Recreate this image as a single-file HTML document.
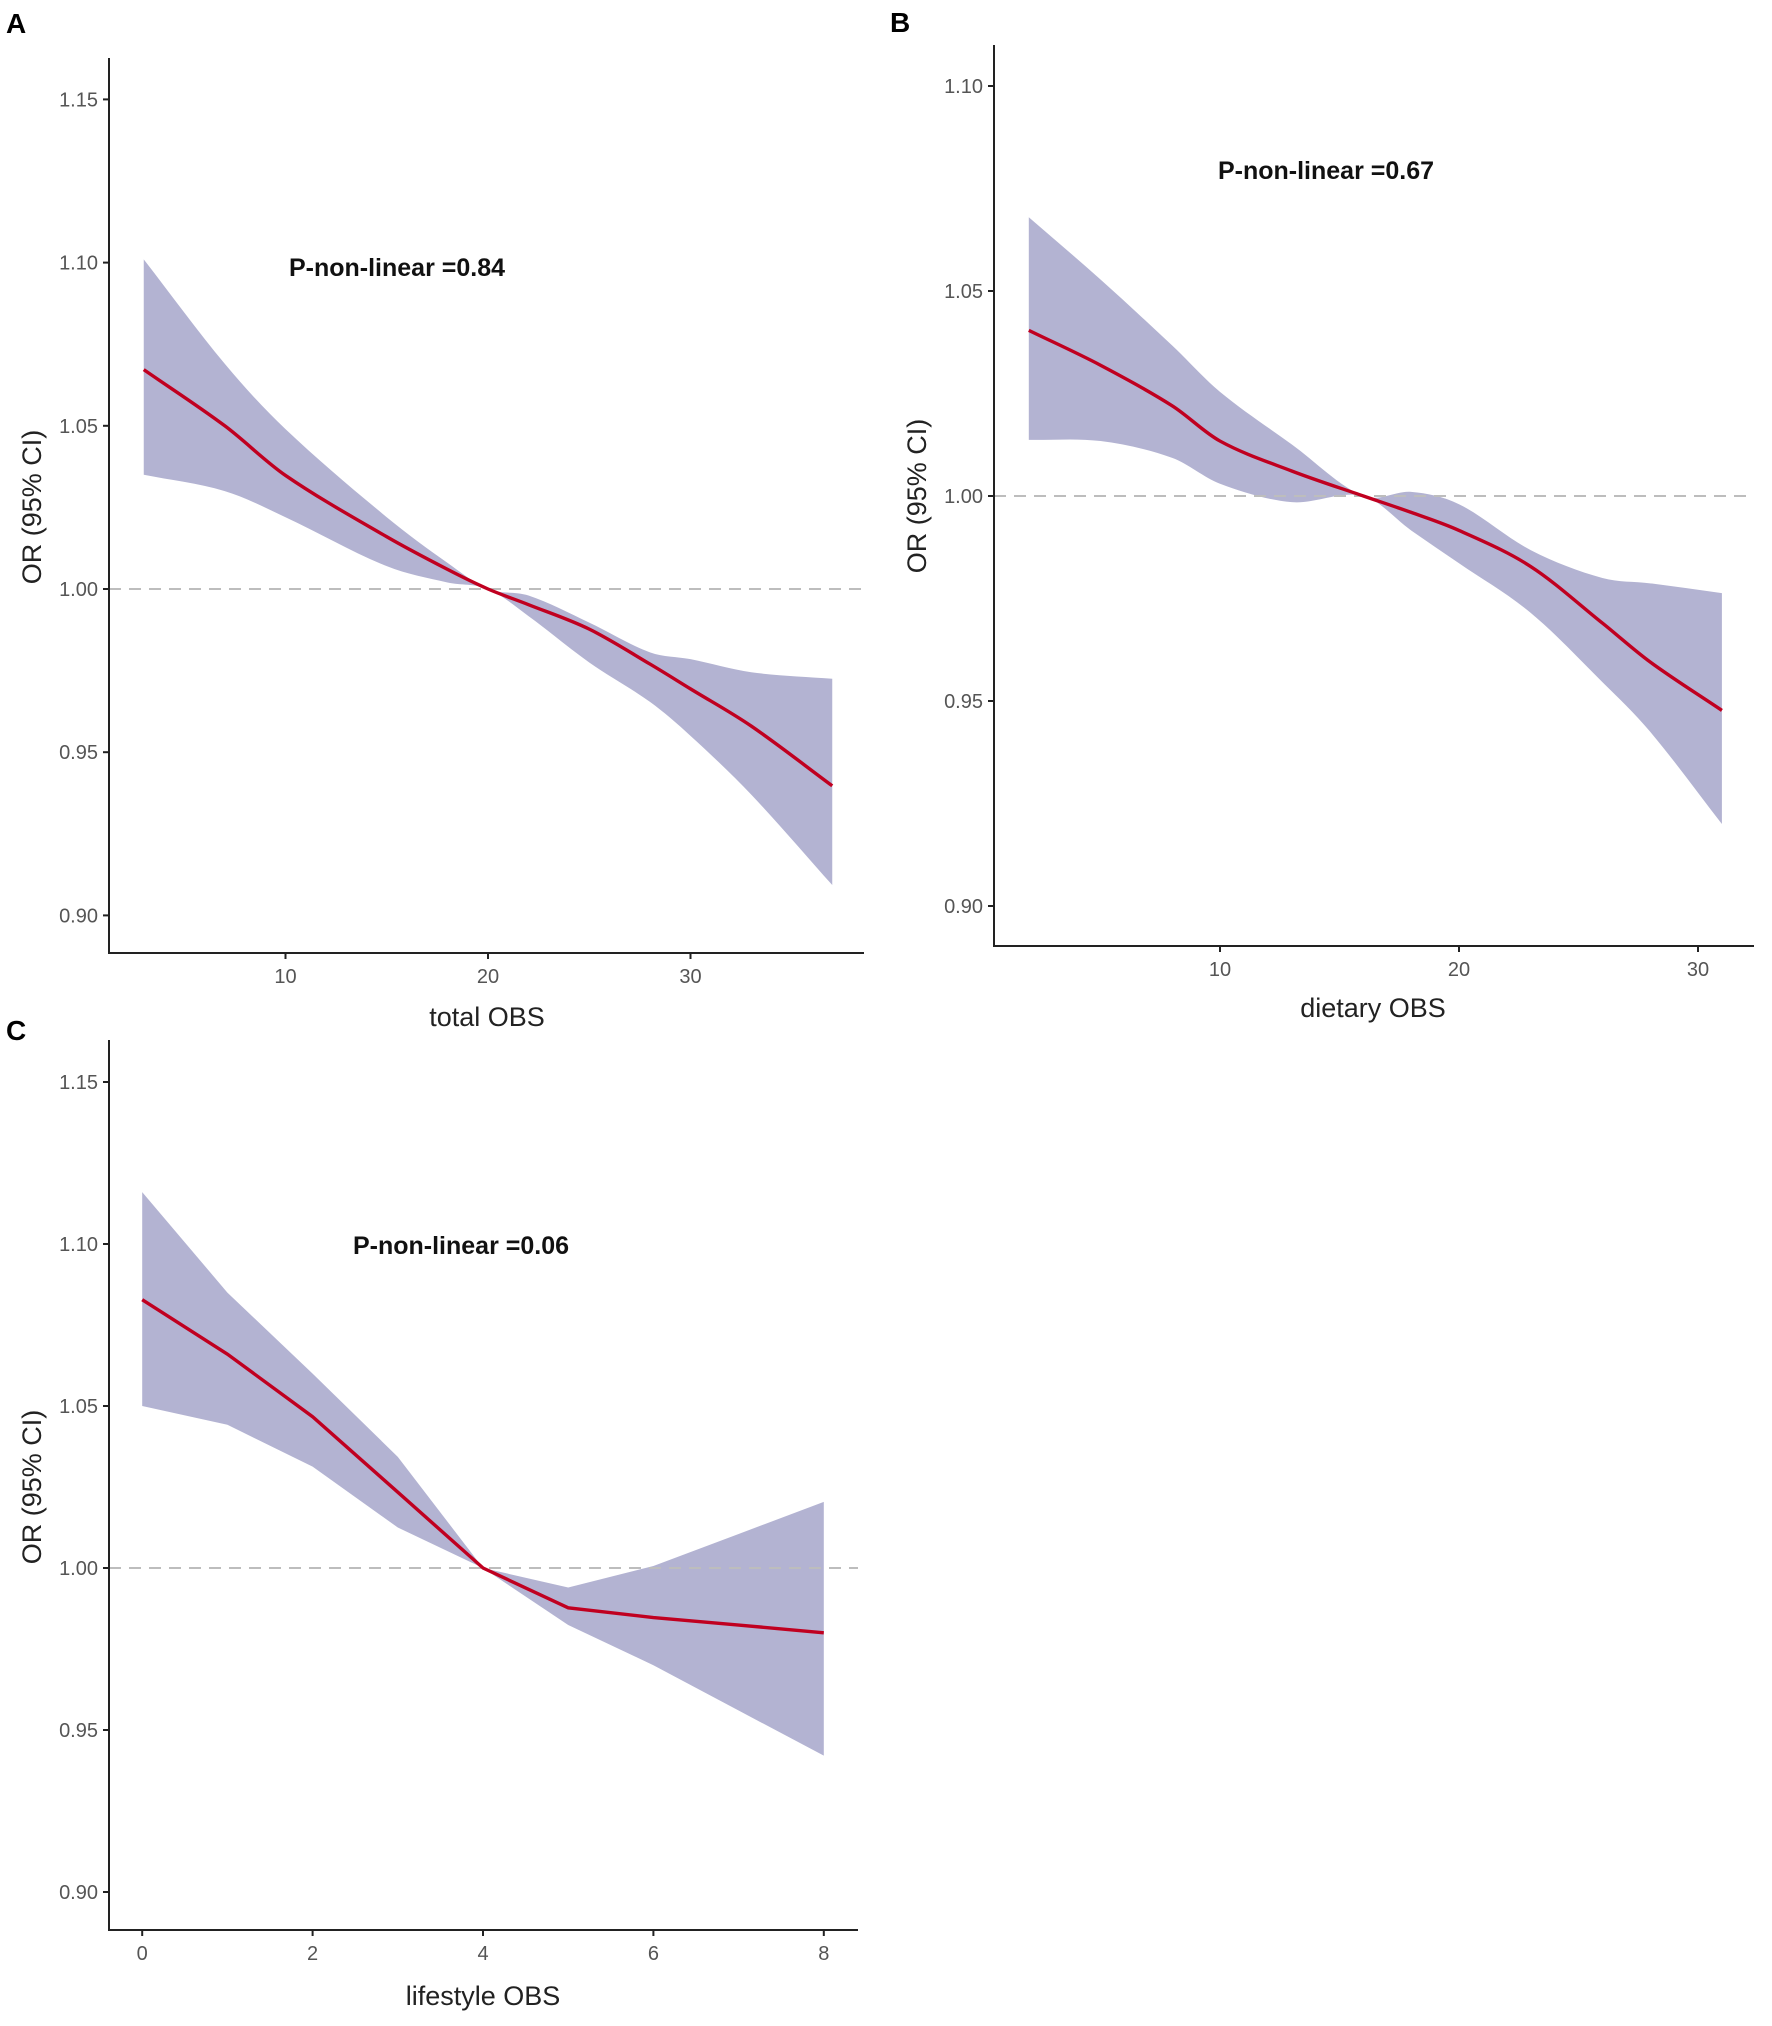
<!DOCTYPE html>
<html><head><meta charset="utf-8"><style>
body{margin:0;background:#fff}
svg text{font-family:"Liberation Sans",Arial,sans-serif}
</style></head><body>
<svg id="fig" width="1772" height="2021" xmlns="http://www.w3.org/2000/svg"></svg>
<script>
// Panel A data (total OBS)
const aX=[3,7,10,15,18,20,22,25,28,30,33,37];
const aFit=[1.0672,1.050,1.0348,1.016,1.006,1.0,0.9952,0.9877,0.977,0.9694,0.958,0.9397];
const aUp=[1.101,1.069,1.049,1.022,1.008,1.0,0.998,0.9897,0.9806,0.9785,0.9745,0.9725];
const aLo=[1.035,1.030,1.022,1.007,1.002,1.0,0.9917,0.9775,0.9654,0.955,0.937,0.9093];
const aXTicks=[10,20,30];
const aYTicks=[0.90,0.95,1.00,1.05,1.10,1.15];
// Panel B data (dietary OBS)
const bX=[2,5,8,10,13,16,18,20,23,26,28,31];
const bFit=[1.0404,1.0319,1.022,1.0134,1.0061,1.0,0.996,0.9916,0.9828,0.969,0.9595,0.9477];
const bUp=[1.068,1.0528,1.0367,1.0254,1.0126,1.0,1.001,0.998,0.9868,0.980,0.9787,0.9763];
const bLo=[1.0137,1.0134,1.0093,1.003,0.9985,1.0,0.9916,0.9836,0.9715,0.9546,0.9425,0.920];
const bXTicks=[10,20,30];
const bYTicks=[0.90,0.95,1.00,1.05,1.10];
// Panel C data (lifestyle OBS)
const cX=[0,1,2,3,4,5,6,7,8];
const cFit=[1.0828,1.066,1.0467,1.0234,1.0,0.9877,0.9847,0.9824,0.980];
const cUp=[1.116,1.085,1.060,1.0343,1.0,0.994,1.0006,1.0105,1.0204];
const cLo=[1.050,1.0442,1.0313,1.0125,1.0,0.9824,0.970,0.956,0.9421];
const cXTicks=[0,2,4,6,8];
const cYTicks=[0.90,0.95,1.00,1.05,1.10,1.15];

const NS="http://www.w3.org/2000/svg";
const svg=document.getElementById('fig');
function mk(tag,attrs,parent){const e=document.createElementNS(NS,tag);for(const k in attrs)e.setAttribute(k,attrs[k]);(parent||svg).appendChild(e);return e;}
// non-uniform cubic Hermite in pixel space (pts sorted by x)
function smoothSeg(pts,start){
  const n=pts.length;const m=[];
  for(let i=0;i<n;i++){const a=pts[Math.max(0,i-1)],b=pts[Math.min(n-1,i+1)];m.push((b[1]-a[1])/(b[0]-a[0]));}
  let d=(start?'M':'L')+pts[0][0]+','+pts[0][1];
  for(let i=0;i<n-1;i++){const p1=pts[i],p2=pts[i+1],dx=p2[0]-p1[0];
    const c1=[p1[0]+dx/3,p1[1]+m[i]*dx/3],c2=[p2[0]-dx/3,p2[1]-m[i+1]*dx/3];
    d+=' C'+c1+' '+c2+' '+p2;}
  return d;}
function smoothRev(pts){ // pts sorted by x, drawn right-to-left
  const n=pts.length;const m=[];
  for(let i=0;i<n;i++){const a=pts[Math.max(0,i-1)],b=pts[Math.min(n-1,i+1)];m.push((b[1]-a[1])/(b[0]-a[0]));}
  let d='L'+pts[n-1][0]+','+pts[n-1][1];
  for(let i=n-1;i>0;i--){const p1=pts[i],p2=pts[i-1],dx=p1[0]-p2[0];
    const c1=[p1[0]-dx/3,p1[1]-m[i]*dx/3],c2=[p2[0]+dx/3,p2[1]+m[i-1]*dx/3];
    d+=' C'+c1+' '+c2+' '+p2;}
  return d;}
function linSeg(pts,start){return (start?'M':'L')+pts.map(p=>p.join(',')).join(' L');}

function panel(cfg,xs,fit,up,lo,xt,yt){
  const g=mk('g',{});
  
  
  const sx=v=>cfg.x0px+(v-cfg.x0v)*cfg.xpu;
  const sy=v=>cfg.y1px-(v-1)*cfg.ypu;
  const upP=xs.map((x,i)=>[sx(x),sy(up[i])]);
  const loP=xs.map((x,i)=>[sx(x),sy(lo[i])]);
  const fitP=xs.map((x,i)=>[sx(x),sy(fit[i])]);
  let d;
  if(cfg.smooth){d=smoothSeg(upP,true)+' '+smoothRev(loP)+' Z';}
  else{d=linSeg(upP,true)+' '+linSeg(loP.slice().reverse(),false)+' Z';}
  const band=mk('path',{d:d,fill:'#b3b3d2',stroke:'none'},g);
  
  
  const ref=mk('line',{x1:cfg.ax,x2:cfg.right,y1:sy(1),y2:sy(1),stroke:'#bdbdbd','stroke-width':2,'stroke-dasharray':'12,8'},g);
  
  
  const line=mk('path',{d:cfg.smooth?smoothSeg(fitP,true):linSeg(fitP,true),fill:'none',stroke:'#c00020','stroke-width':3.4},g);
  
  
  const axes=mk('path',{d:`M${cfg.ax},${cfg.top} V${cfg.bot} H${cfg.right}`,fill:'none',stroke:'#222','stroke-width':2},g);
  
  
  yt.forEach(v=>{const y=sy(v);
    mk('line',{x1:cfg.ax-6,x2:cfg.ax,y1:y,y2:y,stroke:'#222','stroke-width':2},g);
    const t=mk('text',{x:cfg.ax-11,y:y+7,'text-anchor':'end','font-size':20,fill:'#555'},g);t.textContent=v.toFixed(2);
    
    });
  xt.forEach(v=>{const x=sx(v);
    mk('line',{x1:x,x2:x,y1:cfg.bot,y2:cfg.bot+6,stroke:'#222','stroke-width':2},g);
    const t=mk('text',{x:x,y:cfg.bot+30,'text-anchor':'middle','font-size':20,fill:'#555'},g);t.textContent=v;
    
    });
  const xtit=mk('text',{x:cfg.xtx,y:cfg.xty,'text-anchor':'middle','font-size':27,fill:'#222'},g);xtit.textContent=cfg.xtitle;
  
  
  const ytit=mk('text',{x:0,y:0,'text-anchor':'middle','font-size':27,fill:'#222',transform:`translate(${cfg.ytx},${cfg.yty}) rotate(-90)`},g);ytit.textContent='OR (95% CI)';
  
  
  const ann=mk('text',{x:cfg.anx,y:cfg.any,'text-anchor':'middle','font-size':25,fill:'#111','font-weight':'bold'},g);ann.textContent=cfg.ann;
  
  
  const let_=mk('text',{x:cfg.lx,y:cfg.ly,'font-size':28,'font-weight':'bold',fill:'#000'},g);let_.textContent=cfg.letter;
  
  
}
panel({name:'panel-a',x0v:20,x0px:488,xpu:20.25,y1px:589,ypu:3264,ax:109,top:58,bot:953,right:864,smooth:true,
  xtitle:'total OBS',xtx:487,xty:1026,ytx:41,yty:507,ann:'P-non-linear =0.84',anx:397,any:276,letter:'A',lx:6,ly:33},aX,aFit,aUp,aLo,aXTicks,aYTicks);
panel({name:'panel-b',x0v:20,x0px:1459,xpu:23.9,y1px:496,ypu:4100,ax:994,top:45,bot:946,right:1754,smooth:true,
  xtitle:'dietary OBS',xtx:1373,xty:1017,ytx:926,yty:496,ann:'P-non-linear =0.67',anx:1326,any:179,letter:'B',lx:890,ly:32},bX,bFit,bUp,bLo,bXTicks,bYTicks);
panel({name:'panel-c',x0v:4,x0px:483,xpu:85.2,y1px:1568,ypu:3240,ax:109,top:1040,bot:1930,right:858,smooth:false,
  xtitle:'lifestyle OBS',xtx:483,xty:2005,ytx:41,yty:1487,ann:'P-non-linear =0.06',anx:461,any:1254,letter:'C',lx:6,ly:1040},cX,cFit,cUp,cLo,cXTicks,cYTicks);
</script>
</body></html>
